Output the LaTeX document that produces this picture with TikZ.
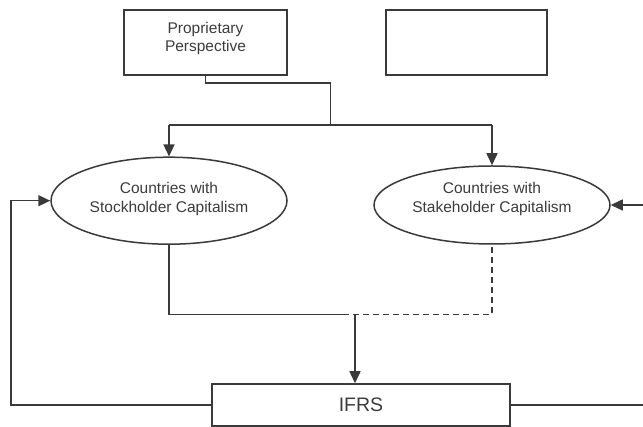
\documentclass[tikz,border=0pt]{standalone}
\usepackage{fontspec}
\setmainfont{Liberation Sans}
\usetikzlibrary{arrows.meta,shapes.geometric}
\definecolor{linegray}{HTML}{3A3A3A}
\definecolor{textgray}{HTML}{3C3C3C}
\begin{document}
\begin{tikzpicture}[x=1pt,y=-1pt,
  line/.style={draw=linegray, line width=1.5pt},
  arr/.style={line, -{Triangle[length=12pt,width=11pt]}},
  box/.style={draw=linegray, line width=1.5pt, rectangle, inner sep=0pt},
  oval/.style={draw=linegray, line width=1.5pt, ellipse, inner sep=0pt},
  lbl/.style={text=textgray, font=\fontsize{15.5}{18.3}\selectfont, align=center, inner sep=0pt},
  dashline/.style={line, dash pattern=on 6pt off 4pt},
]
\useasboundingbox (0,0) rectangle (643,427);

% top boxes
\node[box, minimum width=163pt, minimum height=65pt] (prop) at (205.5,42.5) {};
\node[lbl] (proptext) at (205.5,38.5) {Proprietary\\Perspective};
\node[box, minimum width=161pt, minimum height=65pt] (blank) at (466.5,42.5) {};

% ellipses
\node[oval, minimum width=236pt, minimum height=87pt] (stock) at (169,200.7) {};
\node[lbl] (stocktext) at (169,199) {Countries with\\Stockholder Capitalism};
\node[oval, minimum width=236pt, minimum height=78pt] (stake) at (492,205) {};
\node[lbl] (staketext) at (492,199) {Countries with\\Stakeholder Capitalism};

% bottom box
\node[box, minimum width=298pt, minimum height=42pt] (ifrs) at (361,405) {};
\node[text=textgray, font=\fontsize{19.5}{22}\selectfont, inner sep=0pt] (ifrstext) at (361,405) {IFRS};

% helper coordinates
\coordinate (bend) at (330.7,83);
\coordinate (split) at (330.7,125);
\coordinate (busL) at (169,125);
\coordinate (busR) at (492,125);
\coordinate (joinL) at (169,314.3);
\coordinate (mid) at (343,314.3);
\coordinate (joinR) at (492,314.3);
\coordinate (drop) at (355,314.3);
\coordinate (loopx) at (11,0);
\coordinate (redge) at (643,0);

% connectors from the proprietary box
\draw[line] (prop.south) -- (prop.south |- bend) -- (bend) -- (split);
\draw[line] (busL) -- (busR);
\draw[arr] (busL) -- (stock.north);
\draw[arr] (busR) -- (stake.north);

% merging into IFRS
\draw[line] (stock.south) -- (joinL) -- (mid);
\draw[dashline] (mid) -- (joinR) -- (stake.south);
\draw[arr] (drop) -- (drop |- ifrs.north);

% feedback loops
\draw[arr] (ifrs.west) -- (ifrs.west -| loopx) -- (loopx |- stock.west) -- (stock.west);
\draw[line] (ifrs.east) -- (ifrs.east -| redge);
\draw[arr] (stake.east -| redge) -- (stake.east);
\end{tikzpicture}
\end{document}
